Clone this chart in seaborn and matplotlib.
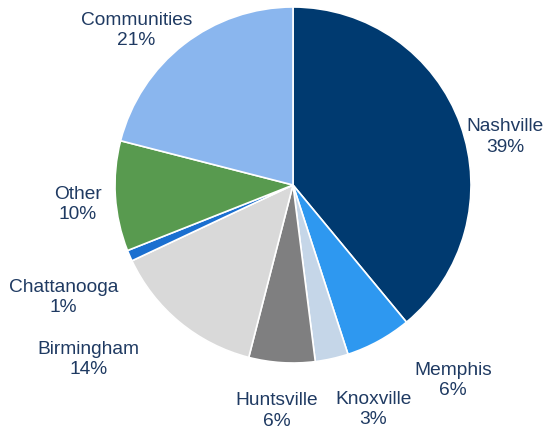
import matplotlib
matplotlib.use("Agg")
import matplotlib.pyplot as plt
import seaborn as sns

regions = ["Nashville", "Memphis", "Knoxville", "Huntsville", "Birmingham",
           "Chattanooga", "Other", "Communities"]
shares = [39, 6, 3, 6, 14, 1, 10, 21]
colors = ["#003a70", "#2e98f0", "#c5d6e8", "#7f7f80", "#d9d9d9",
          "#1a6fd0", "#589a4f", "#8ab6ee"]

# label centres, in units of the pie radius
label_xy = [(1.19, 0.27), (0.90, -1.10), (0.45, -1.26), (-0.09, -1.27),
            (-1.15, -0.98), (-1.29, -0.63), (-1.21, -0.11), (-0.88, 0.87)]

sns.set_theme(style="white")
plt.rcParams["font.family"] = ["Liberation Sans", "DejaVu Sans"]

fig = plt.figure(figsize=(5.5, 4.32), dpi=100)
ax = fig.add_axes([0, 0, 1, 1])
ax.pie(shares, colors=colors, startangle=90, counterclock=False,
       wedgeprops=dict(edgecolor="white", linewidth=1.2))

for name, val, (x, y) in zip(regions, shares, label_xy):
    ax.text(x, y, f"{name}\n{val}%", ha="center", va="center",
            fontsize=13.8, color="#1f3a62", linespacing=1.25)

ax.set_xlim(-293 / 178, 257 / 178)
ax.set_ylim(-247 / 178, 185 / 178)
ax.set_aspect("auto")
ax.axis("off")

fig.savefig("out.png", dpi=100)
